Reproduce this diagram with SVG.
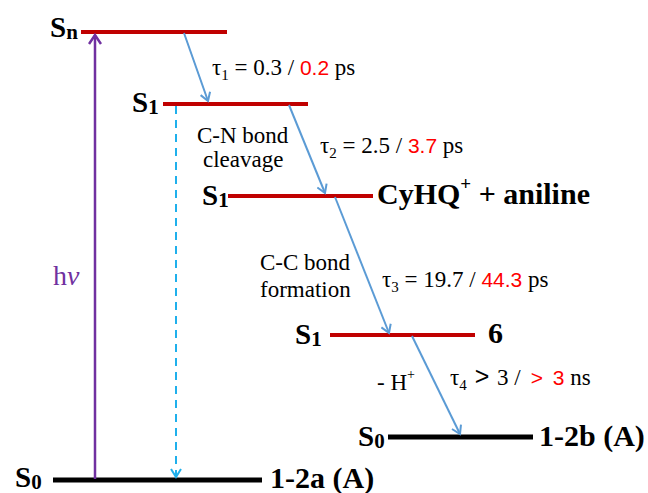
<svg xmlns="http://www.w3.org/2000/svg" width="648" height="493" viewBox="0 0 648 493">
<defs>
<marker id="ab" markerWidth="12" markerHeight="12" refX="10" refY="6" orient="auto" markerUnits="userSpaceOnUse">
<path d="M2,1 L10,6 L2,11" fill="none" stroke="#5b9bd5" stroke-width="2"/>
</marker>
<marker id="ap" markerWidth="14" markerHeight="14" refX="12" refY="7" orient="auto" markerUnits="userSpaceOnUse">
<path d="M3,1 L12,7 L3,13" fill="none" stroke="#7030a0" stroke-width="2.5"/>
</marker>
<marker id="ac" markerWidth="12" markerHeight="12" refX="10" refY="6" orient="auto" markerUnits="userSpaceOnUse">
<path d="M2,1 L10,6 L2,11" fill="none" stroke="#1fb0ec" stroke-width="2"/>
</marker>
</defs>
<style>
.ex{stroke:#c00000;stroke-width:4}
.gs{stroke:#000;stroke-width:5}
.lb{font-family:"Liberation Serif",serif;font-weight:bold;font-size:29px;fill:#000}
.big{font-size:30px}
.sb{font-size:21px}
.t{font-family:"Liberation Serif",serif;font-size:23px;fill:#000}
.r{font-family:"Liberation Sans",sans-serif;fill:#ff0000;font-size:21px}
.sub{font-size:15px}
.bl{stroke:#5b9bd5;stroke-width:2;fill:none}
</style>
<rect width="648" height="493" fill="#fff"/>
<g id="Sn"><line class="ex" x1="81" y1="32" x2="227" y2="32"/><text class="lb" x="50" y="37">S<tspan class="sb" dy="2">n</tspan></text></g>
<g id="S1a"><line class="ex" x1="163" y1="104" x2="308" y2="104"/><text class="lb" x="132" y="112">S<tspan class="sb" dy="2">1</tspan></text></g>
<g id="S1b"><line class="ex" x1="228" y1="196" x2="373" y2="196"/><text class="lb" x="202" y="205">S<tspan class="sb" dy="2">1</tspan></text><text class="lb big" x="377" y="204">CyHQ<tspan font-size="19" dy="-14">+</tspan><tspan dy="14"> + aniline</tspan></text></g>
<g id="S1c"><line class="ex" x1="330" y1="335" x2="475" y2="335"/><text class="lb" x="295" y="344">S<tspan class="sb" dy="2">1</tspan></text><text class="lb big" x="488" y="343">6</text></g>
<g id="S0b"><line class="gs" x1="388" y1="437" x2="533" y2="437"/><text class="lb" x="358" y="446">S<tspan class="sb" dy="2">0</tspan></text><text class="lb big" x="539" y="446">1-2b (A)</text></g>
<g id="S0a"><line class="gs" x1="53" y1="480" x2="262" y2="480"/><text class="lb" x="15" y="487">S<tspan class="sb" dy="2">0</tspan></text><text class="lb big" x="270" y="488">1-2a (A)</text></g>
<g id="connectors">
<line x1="95" y1="479" x2="95" y2="35" stroke="#7030a0" stroke-width="2.5" marker-end="url(#ap)"/>
<line x1="176" y1="106" x2="176" y2="477" stroke="#1fb0ec" stroke-width="2" stroke-dasharray="8,6" marker-end="url(#ac)"/>
<line class="bl" x1="184" y1="33" x2="208" y2="101" marker-end="url(#ab)"/>
<line class="bl" x1="289" y1="105" x2="325" y2="193" marker-end="url(#ab)"/>
<line class="bl" x1="335" y1="197" x2="389" y2="333" marker-end="url(#ab)"/>
<line class="bl" x1="412" y1="336" x2="460" y2="434" marker-end="url(#ab)"/>
</g>
<g id="labels">
<text x="53" y="285" font-family="Liberation Serif,serif" font-size="28" fill="#7030a0">h<tspan font-style="italic">v</tspan></text>
<text class="t" x="212" y="75">τ<tspan class="sub" dy="5">1</tspan><tspan dy="-5"> = 0.3 / </tspan><tspan class="r">0.2</tspan> ps</text>
<text class="t" x="197" y="143">C-N bond</text>
<text class="t" x="203" y="167">cleavage</text>
<text class="t" x="320" y="153">τ<tspan class="sub" dy="5">2</tspan><tspan dy="-5"> = 2.5 / </tspan><tspan class="r">3.7</tspan> ps</text>
<text class="t" x="260" y="270">C-C bond</text>
<text class="t" x="260" y="297">formation</text>
<text class="t" x="382" y="287">τ<tspan class="sub" dy="5">3</tspan><tspan dy="-5"> = 19.7 / </tspan><tspan class="r">44.3</tspan> ps</text>
<text class="t" x="377" y="390">- H<tspan font-size="14" dy="-11">+</tspan></text>
<text class="t" x="450" y="385">τ<tspan class="sub" dy="5">4</tspan><tspan dy="-5" dx="8" font-family="Liberation Sans,sans-serif" font-size="25">&gt;</tspan><tspan dx="2"> 3 /</tspan><tspan class="r" font-size="25" dx="10">&gt;</tspan><tspan class="r" dx="4"> 3</tspan> ns</text>
</g>
</svg>
